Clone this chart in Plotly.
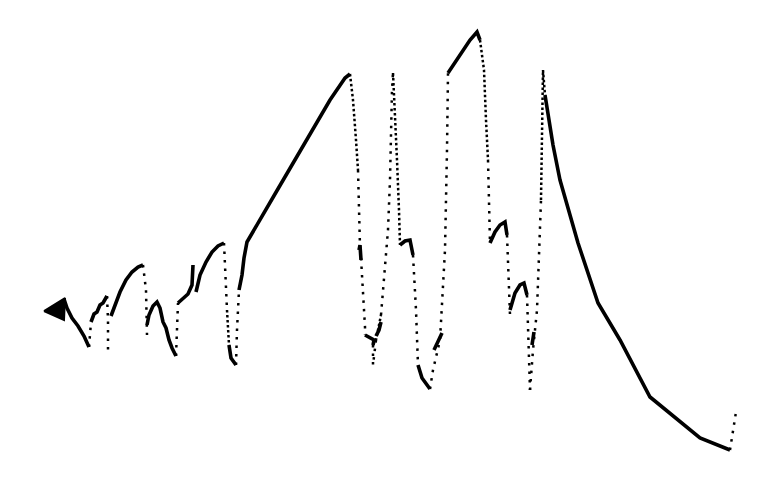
import plotly.graph_objects as go

# Solid (dense) stretches of the trace; None separates stretches
solid_t = [64, 67, 72, 78, 84, 89, None,
           91, 94, 97, 100, 103, 107, None,
           111, 115, 120, 126, 132, 138, 143, None,
           147, 149, 153, 157, 160, 163, 166, 169, 172, 176, None,
           178, 183, 188, 192, 193, None,
           196, 200, 206, 212, 218, 224, None,
           229, 231, 236, None,
           239, 242, 244, 247, 275, 300, 330, 345, 350, None,
           359, 360, 361, None,
           365, 370, 374, 373, None,
           376, 379, 381, None,
           400, 405, 410, 413, None,
           418, 422, 430, None,
           434, 438, 442, None,
           448, 460, 470, 477, 480, None,
           490, 495, 500, 505, 507, None,
           510, 515, 520, 524, 527, None,
           532, 534, None,
           545, 553, 560, 578, 598, 620, 650, 675, 700, 730]
solid_v = [299, 308, 318, 326, 336, 347, None,
           322, 314, 312, 305, 303, 296, None,
           316, 305, 292, 280, 272, 267, 265, None,
           325, 315, 306, 302, 308, 322, 328, 340, 348, 356, None,
           303, 299, 294, 285, 265, None,
           292, 275, 262, 252, 246, 243, None,
           345, 358, 365, None,
           290, 275, 258, 242, 194, 152, 100, 78, 74, None,
           250, 245, 260, None,
           335, 338, 340, 345, None,
           336, 330, 322, None,
           245, 241, 240, 255, None,
           365, 378, 389, None,
           350, 342, 333, None,
           73, 55, 40, 32, 40, None,
           243, 232, 225, 222, 235, None,
           310, 293, 285, 283, 295, None,
           345, 332, None,
           95, 145, 180, 243, 303, 340, 397, 418, 438, 450]

# Closely spaced samples (near-continuous dotted runs)
dense_t = [350, 353, 356, 358, None,
           393, 395, 397, 399, 400, None,
           480, 484, 486, 488, None,
           541, 542, 543, 545, None,
           227, 229, None,
           373, 376, 381]
dense_v = [74, 100, 140, 170, None,
           73, 110, 160, 210, 245, None,
           40, 70, 120, 160, None,
           200, 130, 70, 95, None,
           310, 345, None,
           345, 340, 315]

# Sparse (dotted) jumps
dot_t = [89, 90, 91, None,
         107, 108, 108, None,
         143, 146, 147, None,
         176, 177, 178, None,
         224, 227, None,
         236, 237, 239, None,
         358, 360, None,
         361, 363, 365, 365, None,
         373, 373, 376, None,
         381, 385, 388, 390, 391, 392, 393, None,
         413, 416, 418, None,
         430, 433, 440, 445, 447, 448, None,
         488, 490, None,
         507, 509, 510, None,
         527, 529, 530, None,
         530, 533, 537, 539, 541, None,
         730, 733, 736]
dot_v = [347, 335, 322, None,
         296, 320, 352, None,
         265, 290, 335, None,
         356, 330, 303, None,
         243, 310, None,
         365, 330, 290, None,
         170, 247, None,
         258, 290, 327, 335, None,
         345, 365, 340, None,
         315, 270, 230, 180, 130, 90, 73, None,
         255, 310, 365, None,
         389, 370, 340, 250, 150, 73, None,
         160, 243, None,
         235, 280, 315, None,
         295, 350, 390, None,
         390, 350, 310, 260, 200, None,
         450, 430, 412]

# Filled wedge at the start
wedge_t = [44, 65, 64, 44]
wedge_v = [311, 298, 320, 311]

fig = go.Figure()
fig.add_trace(go.Scatter(x=wedge_t, y=wedge_v, mode="lines", fill="toself",
                         fillcolor="black", line=dict(color="black", width=2),
                         hoverinfo="skip"))
fig.add_trace(go.Scatter(x=solid_t, y=solid_v, mode="lines",
                         line=dict(color="black", width=3.6),
                         connectgaps=False, hoverinfo="skip"))
fig.add_trace(go.Scatter(x=dense_t, y=dense_v, mode="lines",
                         line=dict(color="black", width=2.5, dash="2.5px,2.5px"),
                         connectgaps=False, hoverinfo="skip"))
fig.add_trace(go.Scatter(x=dot_t, y=dot_v, mode="lines",
                         line=dict(color="black", width=2.5, dash="2.5px,6px"),
                         connectgaps=False, hoverinfo="skip"))

fig.update_layout(
    width=779, height=482,
    margin=dict(l=0, r=0, t=0, b=0),
    paper_bgcolor="white", plot_bgcolor="white",
    showlegend=False,
    xaxis=dict(range=[0, 779], visible=False, showgrid=False, zeroline=False),
    yaxis=dict(range=[482, 0], visible=False, showgrid=False, zeroline=False),
)
fig.write_html("out.html")
